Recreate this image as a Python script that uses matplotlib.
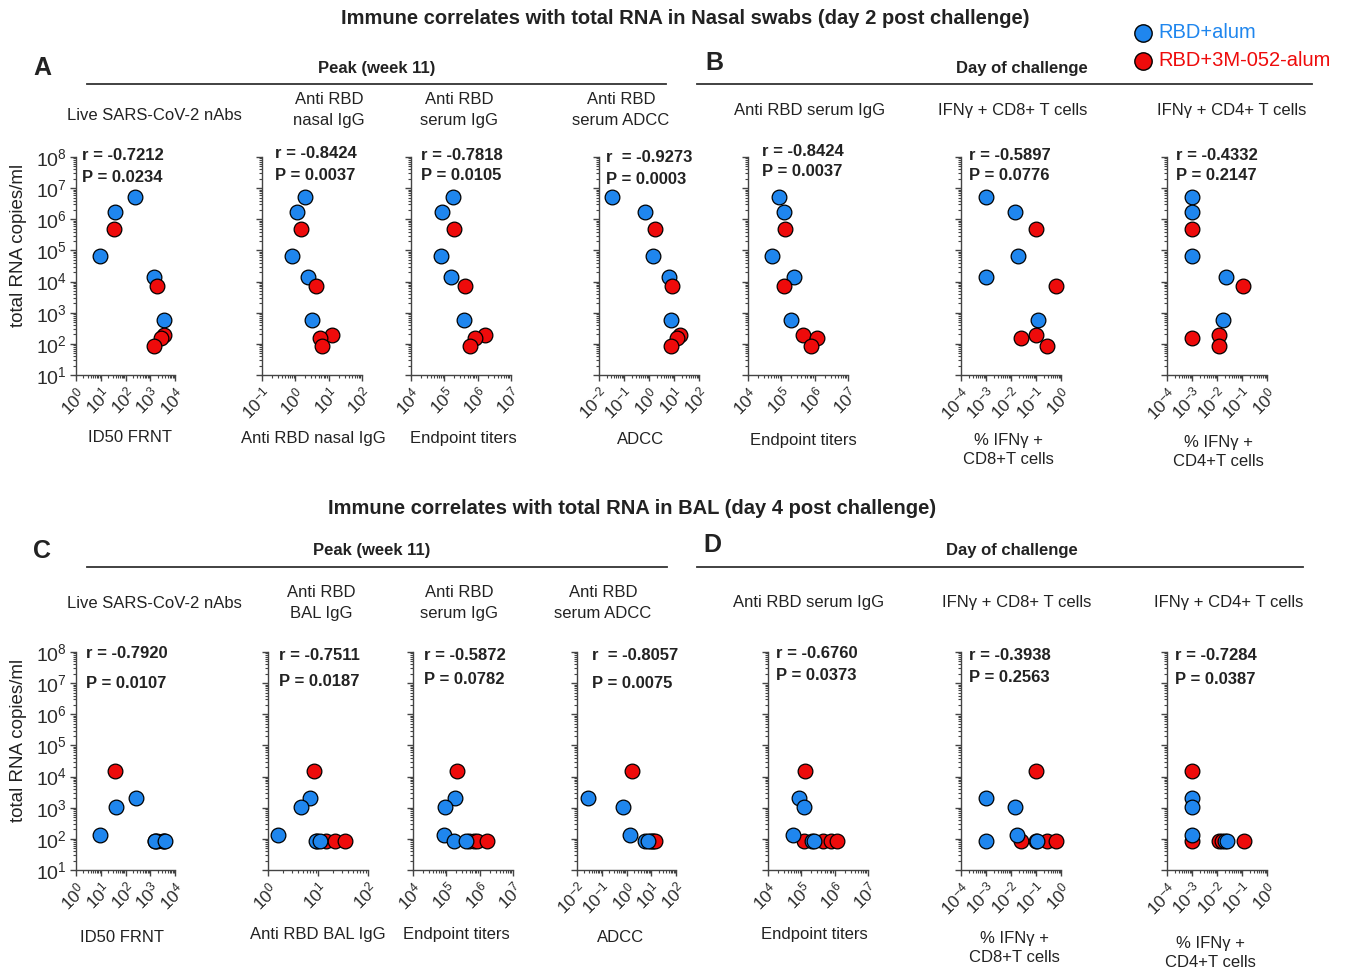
"""
Immune correlates with total RNA: log-log scatter panels (nasal swabs, BAL).
"""
import numpy as np
import matplotlib
matplotlib.use("Agg")
import matplotlib.pyplot as plt
from matplotlib.lines import Line2D
from matplotlib.ticker import LogLocator, NullFormatter

plt.rcParams["font.family"] = ["Liberation Sans", "DejaVu Sans"]
plt.rcParams["mathtext.fontset"] = "custom"
plt.rcParams["mathtext.rm"] = "Liberation Sans"
plt.rcParams["mathtext.it"] = "Liberation Sans:italic"
plt.rcParams["mathtext.bf"] = "Liberation Sans:bold"

BLUE = "#1f86ee"
RED = "#ee0b0b"
INK = "#222222"

# ---------------- data: nasal swabs, day 2 post challenge ----------------
nasal_rna_alum = [5.2e6, 1.66e6, 6.6e4, 1.45e4, 580]
nasal_rna_3m = [5.0e5, 7.4e3, 195, 160, 86]

nasal_frnt_alum = [240, 39, 9, 1450, 3470]
nasal_frnt_3m = [33, 1820, 3700, 2800, 1450]
nasal_igg_alum = [2.0, 1.1, 0.78, 2.45, 3.16]
nasal_igg_3m = [1.45, 4.1, 12.6, 5.4, 6.2]
nasal_serum_igg_alum = [1.8e5, 8.3e4, 8.1e4, 1.6e5, 3.9e5]
nasal_serum_igg_3m = [2.0e5, 4.2e5, 1.7e6, 8.3e5, 6.0e5]
nasal_adcc_alum = [0.032, 0.69, 1.5, 6.4, 7.7]
nasal_adcc_3m = [1.74, 8.2, 16.6, 13, 7.7]
nasal_doc_igg_alum = [8.3e4, 1.23e5, 5.4e4, 2.45e5, 1.95e5]
nasal_doc_igg_3m = [1.29e5, 1.2e5, 4.6e5, 1.17e6, 7.8e5]
nasal_cd8_alum = [0.001, 0.0148, 0.0186, 0.001, 0.115]
nasal_cd8_3m = [0.102, 0.62, 0.102, 0.025, 0.275]
nasal_cd4_alum = [0.001, 0.001, 0.001, 0.022, 0.018]
nasal_cd4_3m = [0.001, 0.107, 0.0117, 0.001, 0.0117]

nasal_r = ["-0.7212", "-0.8424", "-0.7818", " -0.9273", "-0.8424", "-0.5897", "-0.4332"]
nasal_p = ["0.0234", "0.0037", "0.0105", "0.0003", "0.0037", "0.0776", "0.2147"]

# ---------------- data: BAL, day 4 post challenge ----------------
bal_rna_alum = [2.0e3, 1.02e3, 138, 88, 88]
bal_rna_3m = [1.55e4, 88, 88, 88, 88]

bal_frnt_alum = [265, 40, 9.6, 1500, 3900]
bal_frnt_3m = [38, 1500, 1800, 3400, 3700]
bal_igg_alum = [6.9, 4.6, 1.6, 9.0, 10.8]
bal_igg_3m = [8.3, 9.5, 14.6, 22, 34]
bal_serum_igg_alum = [1.86e5, 9.1e4, 8.5e4, 1.7e5, 4.0e5]
bal_serum_igg_3m = [2.04e5, 4.7e5, 6.6e5, 8.3e5, 1.7e6]
bal_adcc_alum = [0.028, 0.69, 1.35, 5.6, 7.1]
bal_adcc_3m = [1.63, 8.9, 10.5, 12.3, 14.5]
bal_doc_igg_alum = [8.3e4, 1.2e5, 5.5e4, 2.1e5, 2.4e5]
bal_doc_igg_3m = [1.26e5, 1.2e5, 4.5e5, 7.8e5, 1.2e6]
bal_cd8_alum = [0.001, 0.015, 0.018, 0.001, 0.11]
bal_cd8_3m = [0.10, 0.025, 0.10, 0.28, 0.62]
bal_cd4_alum = [0.001, 0.001, 0.001, 0.02, 0.024]
bal_cd4_3m = [0.001, 0.001, 0.0123, 0.016, 0.12]

bal_r = ["-0.7920", "-0.7511", "-0.5872", " -0.8057", "-0.6760", "-0.3938", "-0.7284"]
bal_p = ["0.0107", "0.0187", "0.0782", "0.0075", "0.0373", "0.2563", "0.0387"]

# column texts
nasal_headers = ["Live SARS-CoV-2 nAbs", "Anti RBD\nnasal IgG", "Anti RBD\nserum IgG",
                 "Anti RBD\nserum ADCC", "Anti RBD serum IgG", "IFNγ + CD8+ T cells",
                 "IFNγ + CD4+ T cells"]
bal_headers = ["Live SARS-CoV-2 nAbs", "Anti RBD\nBAL IgG", "Anti RBD\nserum IgG",
               "Anti RBD\nserum ADCC", "Anti RBD serum IgG", "IFNγ + CD8+ T cells",
               "IFNγ + CD4+ T cells"]
nasal_xlabels = ["ID50 FRNT", "Anti RBD nasal IgG", "Endpoint titers", "ADCC",
                 "Endpoint titers", "% IFNγ +\nCD8+T cells", "% IFNγ +\nCD4+T cells"]
bal_xlabels = ["ID50 FRNT", "Anti RBD BAL IgG", "Endpoint titers", "ADCC",
               "Endpoint titers", "% IFNγ +\nCD8+T cells", "% IFNγ +\nCD4+T cells"]

x_decades = [(0, 4), (-1, 2), (4, 7), (-2, 2), (4, 7), (-4, 0), (-4, 0)]
bal_x_decades = [(0, 4), (0, 2), (4, 7), (-2, 2), (4, 7), (-4, 0), (-4, 0)]

W, H = 1346, 973
fig = plt.figure(figsize=(W / 100, H / 100), dpi=100)


def fx(x):
    return x / W


def fy(y):
    return 1 - y / H


def ftext(x, y, s, **kw):
    kw.setdefault("color", INK)
    kw.setdefault("va", "center")
    fig.text(fx(x), fy(y), s, **kw)


def hline(x0, x1, y):
    fig.add_artist(Line2D([fx(x0), fx(x1)], [fy(y), fy(y)], transform=fig.transFigure,
                          color="#333333", lw=1.3))


def panel(x0, x1, ytop, ybot, xs_a, xs_b, ys_a, ys_b, dec, ylabels, blue_front):
    ax = fig.add_axes([fx(x0), fy(ybot), fx(x1 - x0), (ybot - ytop) / H])
    za, zb = (3, 2) if blue_front else (2, 3)
    ax.scatter(xs_b, ys_b, s=112, color=RED, edgecolor="black", linewidth=0.9, zorder=zb,
               clip_on=False)
    ax.scatter(xs_a, ys_a, s=112, color=BLUE, edgecolor="black", linewidth=0.9, zorder=za,
               clip_on=False)
    ax.set_xscale("log")
    ax.set_yscale("log")
    ax.set_xlim(10.0 ** dec[0], 10.0 ** dec[1])
    ax.set_ylim(10, 1e8)
    for side in ("top", "right"):
        ax.spines[side].set_visible(False)
    for side in ("left", "bottom"):
        ax.spines[side].set_color("#444444")
        ax.spines[side].set_linewidth(1.0)
    xt = list(range(dec[0], dec[1] + 1))
    ax.set_xticks([10.0 ** k for k in xt])
    ax.set_xticklabels([f"$10^{{{k}}}$" for k in xt], rotation=45, ha="right",
                       rotation_mode="anchor", fontsize=12.5, color="#2a2a2a")
    ax.set_yticks([10.0 ** k for k in range(1, 9)])
    if ylabels:
        ax.set_yticklabels([f"$10^{{{k}}}$" for k in range(1, 9)], fontsize=14,
                           color="#2a2a2a")
    else:
        ax.set_yticklabels([])
    ax.xaxis.set_minor_locator(LogLocator(base=10, subs=np.arange(2, 10), numticks=30))
    ax.yaxis.set_minor_locator(LogLocator(base=10, subs=np.arange(2, 10), numticks=30))
    ax.xaxis.set_minor_formatter(NullFormatter())
    ax.yaxis.set_minor_formatter(NullFormatter())
    ax.tick_params(which="major", length=4.5, width=1.0, color="#444444", pad=2)
    ax.tick_params(which="minor", length=2.5, width=0.8, color="#444444")
    ax.set_facecolor("none")
    return ax


# ---------------- top block ----------------
ftext(685, 19, "Immune correlates with total RNA in Nasal swabs (day 2 post challenge)",
      ha="center", fontsize=14.5, fontweight="bold")
ftext(42, 68, "A", ha="center", fontsize=18, fontweight="bold")
ftext(377, 69, "Peak (week 11)", ha="center", fontsize=12, fontweight="bold")
hline(87, 666, 84)
ftext(714, 63, "B", ha="center", fontsize=18, fontweight="bold")
ftext(1022, 69, "Day of challenge", ha="center", fontsize=12, fontweight="bold")
hline(697, 1312, 84)

# legend
fig.add_artist(Line2D([fx(1143)], [fy(33)], transform=fig.transFigure, marker="o",
                      markersize=12.5, markerfacecolor=BLUE, markeredgecolor="black",
                      markeredgewidth=1.0, linestyle="none"))
fig.add_artist(Line2D([fx(1143)], [fy(61)], transform=fig.transFigure, marker="o",
                      markersize=12.5, markerfacecolor=RED, markeredgecolor="black",
                      markeredgewidth=1.0, linestyle="none"))
ftext(1158, 33, "RBD+alum", fontsize=14.5, color=BLUE)
ftext(1158, 61, "RBD+3M-052-alum", fontsize=14.5, color=RED)

nasal_x = [(nasal_frnt_alum, nasal_frnt_3m), (nasal_igg_alum, nasal_igg_3m),
           (nasal_serum_igg_alum, nasal_serum_igg_3m), (nasal_adcc_alum, nasal_adcc_3m),
           (nasal_doc_igg_alum, nasal_doc_igg_3m), (nasal_cd8_alum, nasal_cd8_3m),
           (nasal_cd4_alum, nasal_cd4_3m)]
bal_x = [(bal_frnt_alum, bal_frnt_3m), (bal_igg_alum, bal_igg_3m),
         (bal_serum_igg_alum, bal_serum_igg_3m), (bal_adcc_alum, bal_adcc_3m),
         (bal_doc_igg_alum, bal_doc_igg_3m), (bal_cd8_alum, bal_cd8_3m),
         (bal_cd4_alum, bal_cd4_3m)]

top_axes_px = [(76, 175), (262, 362), (411, 511), (599, 699), (748, 848), (961, 1061),
               (1167, 1267)]
top_header_pos = [(154, 115), (329, 110), (459, 110), (621, 110), (810, 110),
                  (1013, 110), (1232, 110)]
top_xlabel_pos = [(130, 438), (313, 438), (463, 438), (641, 440), (803, 440),
                  (1008, 450), (1218, 452)]
top_r_pos = [(82, 156, 177), (275, 153, 175), (421, 156, 176), (606, 157, 180),
             (762, 151, 172), (969, 155, 176), (1176, 156, 176)]

for i in range(7):
    x0, x1 = top_axes_px[i]
    xa, xb = nasal_x[i]
    panel(x0, x1, 157, 375, xa, xb, nasal_rna_alum, nasal_rna_3m, x_decades[i],
          i == 0, blue_front=False)
    hx, hy = top_header_pos[i]
    ftext(hx, hy, nasal_headers[i], ha="center", fontsize=12, linespacing=1.45)
    lx, ly = top_xlabel_pos[i]
    ftext(lx, ly, nasal_xlabels[i], ha="center", fontsize=12, linespacing=1.4)
    rx, ry, py = top_r_pos[i]
    ftext(rx, ry, "r = " + nasal_r[i].strip() if not nasal_r[i].startswith(" ")
          else "r  = " + nasal_r[i].strip(), fontsize=12, fontweight="bold")
    ftext(rx, py, "P = " + nasal_p[i], fontsize=12, fontweight="bold")

ftext(19, 245, "total RNA copies/ml", ha="center", rotation=90, fontsize=13.5)

# ---------------- bottom block ----------------
ftext(632, 508, "Immune correlates with total RNA in BAL (day 4 post challenge)",
      ha="center", fontsize=14.5, fontweight="bold")
ftext(42, 551, "C", ha="center", fontsize=18, fontweight="bold")
ftext(372, 551, "Peak (week 11)", ha="center", fontsize=12, fontweight="bold")
hline(87, 667, 567)
ftext(712, 545, "D", ha="center", fontsize=18, fontweight="bold")
ftext(1012, 551, "Day of challenge", ha="center", fontsize=12, fontweight="bold")
hline(697, 1303, 567)

bot_axes_px = [(76, 175), (268, 368), (413, 513), (577, 676), (768, 868), (961, 1061),
               (1167, 1267)]
bot_header_pos = [(154, 603), (321, 603), (459, 603), (603, 603), (809, 603),
                  (1017, 603), (1229, 603)]
bot_xlabel_pos = [(122, 938), (318, 935), (456, 935), (621, 937), (814, 934),
                  (1014, 948), (1210, 953)]
bot_r_pos = [(86, 654, 684), (279, 655, 681), (424, 656, 679), (592, 655, 684),
             (776, 653, 676), (969, 655, 677), (1175, 655, 680)]

for i in range(7):
    x0, x1 = bot_axes_px[i]
    xa, xb = bal_x[i]
    panel(x0, x1, 652, 870, xa, xb, bal_rna_alum, bal_rna_3m, bal_x_decades[i],
          i == 0, blue_front=True)
    hx, hy = bot_header_pos[i]
    ftext(hx, hy, bal_headers[i], ha="center", fontsize=12, linespacing=1.45)
    lx, ly = bot_xlabel_pos[i]
    ftext(lx, ly, bal_xlabels[i], ha="center", fontsize=12, linespacing=1.4)
    rx, ry, py = bot_r_pos[i]
    ftext(rx, ry, "r = " + bal_r[i].strip() if not bal_r[i].startswith(" ")
          else "r  = " + bal_r[i].strip(), fontsize=12, fontweight="bold")
    ftext(rx, py, "P = " + bal_p[i], fontsize=12, fontweight="bold")

ftext(19, 740, "total RNA copies/ml", ha="center", rotation=90, fontsize=13.5)

fig.savefig("out.png", dpi=100)
